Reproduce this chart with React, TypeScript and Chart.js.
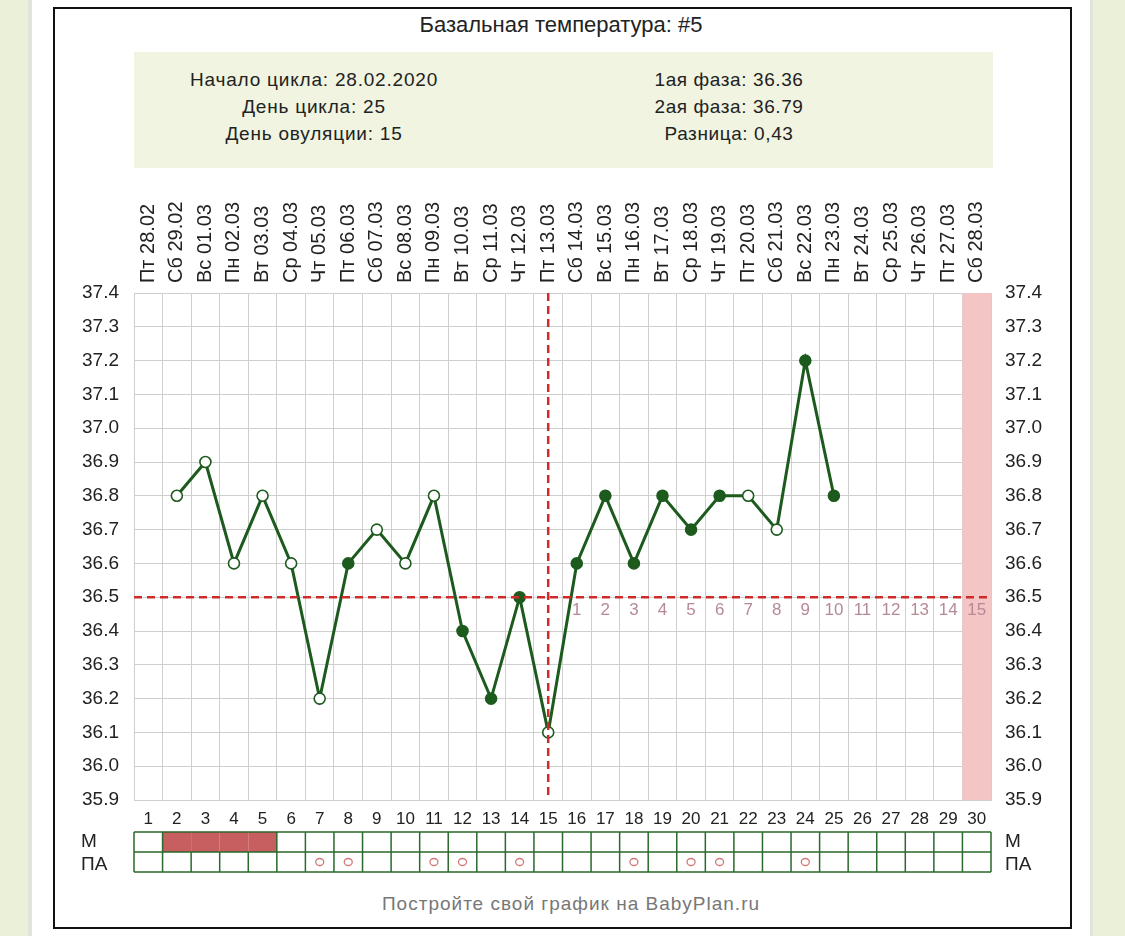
import React, { useEffect, useRef } from "react";
import { Chart, registerables } from "chart.js";

Chart.register(...registerables);

// ---------- data ----------
const dateLabels = [
  "Пт 28.02", "Сб 29.02", "Вс 01.03", "Пн 02.03", "Вт 03.03", "Ср 04.03",
  "Чт 05.03", "Пт 06.03", "Сб 07.03", "Вс 08.03", "Пн 09.03", "Вт 10.03",
  "Ср 11.03", "Чт 12.03", "Пт 13.03", "Сб 14.03", "Вс 15.03", "Пн 16.03",
  "Вт 17.03", "Ср 18.03", "Чт 19.03", "Пт 20.03", "Сб 21.03", "Вс 22.03",
  "Пн 23.03", "Вт 24.03", "Ср 25.03", "Чт 26.03", "Пт 27.03", "Сб 28.03",
];
const cycleDays = [
  "1", "2", "3", "4", "5", "6", "7", "8", "9", "10", "11", "12", "13", "14", "15",
  "16", "17", "18", "19", "20", "21", "22", "23", "24", "25", "26", "27", "28", "29", "30",
];
const temperatures = [
  null, 36.8, 36.9, 36.6, 36.8, 36.6, 36.2, 36.6, 36.7, 36.6, 36.8, 36.4, 36.2, 36.5, 36.1,
  36.6, 36.8, 36.6, 36.8, 36.7, 36.8, 36.8, 36.7, 37.2, 36.8, null, null, null, null, null,
];
const filledMarkers = [
  false, false, false, false, false, false, false, true, false, false, false, true, true, true, false,
  true, true, true, true, true, true, false, false, true, true, false, false, false, false, false,
];
const coverline = 36.5;
const ovulationDay = "15";
const phaseStartDay = 16;
const phaseNumbers = ["1", "2", "3", "4", "5", "6", "7", "8", "9", "10", "11", "12", "13", "14", "15"];
const highlightDay = "30";
const periodDays = ["2", "3", "4", "5"];
const intercourseDays = ["7", "8", "11", "12", "14", "18", "20", "21", "24"];
const yMin = 35.9;
const yMax = 37.4;
const yStep = 0.1;

const titleText = "Базальная температура: #5";
const infoLeft = ["Начало цикла: 28.02.2020", "День цикла: 25", "День овуляции: 15"];
const infoRight = ["1ая фаза: 36.36", "2ая фаза: 36.79", "Разница: 0,43"];
const footerText = "Постройте свой график на BabyPlan.ru";
const rowLabels = ["М", "ПА"];

// ---------- styles ----------
const FONT = "'Liberation Sans', Arial, sans-serif";
const LINE_GREEN = "#1d5a1d";
const RED = "#cf2b2b";
const GRID = "#cfcfcf";
const TABLE_GREEN = "#2a6a2a";

const overlayPlugin = {
  id: "bbtOverlay",
  beforeDatasetsDraw(chart: any) {
    const { ctx, chartArea } = chart;
    const x = chart.scales.x;
    const w = x.getPixelForValue(1) - x.getPixelForValue(0);
    const cx = x.getPixelForValue(cycleDays.indexOf(highlightDay));
    ctx.save();
    ctx.fillStyle = "#f3c5c5";
    ctx.fillRect(cx - w / 2, chartArea.top, w, chartArea.bottom - chartArea.top);
    ctx.restore();
  },
  afterDatasetsDraw(chart: any) {
    const { ctx, chartArea } = chart;
    const x = chart.scales.x;
    const y = chart.scales.y;
    ctx.save();
    ctx.strokeStyle = RED;
    ctx.lineWidth = 2.5;
    ctx.setLineDash([8, 5]);
    const yc = y.getPixelForValue(coverline);
    ctx.beginPath();
    ctx.moveTo(chartArea.left, yc);
    ctx.lineTo(chartArea.right, yc);
    ctx.stroke();
    const xo = x.getPixelForValue(cycleDays.indexOf(ovulationDay));
    ctx.beginPath();
    ctx.moveTo(xo, chartArea.top);
    ctx.lineTo(xo, chartArea.bottom);
    ctx.stroke();
    ctx.setLineDash([]);
    ctx.fillStyle = "#b58a95";
    ctx.font = `17px ${FONT}`;
    ctx.textAlign = "center";
    ctx.textBaseline = "middle";
    phaseNumbers.forEach((n, i) => {
      const px = x.getPixelForValue(phaseStartDay - 1 + i);
      ctx.fillText(n, px, yc + 13);
    });
    ctx.restore();
  },
  afterDraw(chart: any) {
    const { ctx, chartArea } = chart;
    const x = chart.scales.x;
    const w = x.getPixelForValue(1) - x.getPixelForValue(0);
    const left = chartArea.left;
    const right = chartArea.right;
    const top = chartArea.bottom + 32;
    const rowH = 20;
    ctx.save();
    ctx.fillStyle = "#c75f60";
    periodDays.forEach((d) => {
      const cx = x.getPixelForValue(cycleDays.indexOf(d));
      ctx.fillRect(cx - w / 2, top, w, rowH);
    });
    ctx.strokeStyle = TABLE_GREEN;
    ctx.lineWidth = 1.5;
    ctx.beginPath();
    for (let r = 0; r <= 2; r++) {
      ctx.moveTo(left, top + r * rowH);
      ctx.lineTo(right, top + r * rowH);
    }
    for (let i = 0; i <= cycleDays.length; i++) {
      const bx = left + i * w;
      const inPeriodLeft = i > 0 && periodDays.includes(cycleDays[i - 1]);
      const inPeriodRight = i < cycleDays.length && periodDays.includes(cycleDays[i]);
      if (!(inPeriodLeft && inPeriodRight)) {
        ctx.moveTo(bx, top);
        ctx.lineTo(bx, top + rowH);
      }
      ctx.moveTo(bx, top + rowH);
      ctx.lineTo(bx, top + 2 * rowH);
    }
    ctx.stroke();
    ctx.strokeStyle = "#d27878";
    ctx.lineWidth = 1.3;
    intercourseDays.forEach((d) => {
      const cx = x.getPixelForValue(cycleDays.indexOf(d));
      ctx.beginPath();
      ctx.ellipse(cx, top + rowH * 1.5, 4, 3.5, 0, 0, Math.PI * 2);
      ctx.stroke();
    });
    ctx.fillStyle = "#222";
    ctx.font = `19px ${FONT}`;
    ctx.textBaseline = "middle";
    ctx.textAlign = "left";
    ctx.fillText(rowLabels[0], 81, top + rowH * 0.5);
    ctx.fillText(rowLabels[1], 81, top + rowH * 1.65);
    ctx.fillText(rowLabels[0], right + 14, top + rowH * 0.5);
    ctx.fillText(rowLabels[1], right + 14, top + rowH * 1.65);
    ctx.restore();
  },
};

function ChartCanvas() {
  const ref = useRef<HTMLCanvasElement | null>(null);
  useEffect(() => {
    if (!ref.current) return;
    const chart = new Chart(ref.current, {
      type: "line",
      data: {
        labels: cycleDays,
        datasets: [
          {
            data: temperatures as any,
            xAxisID: "x",
            yAxisID: "y",
            borderColor: LINE_GREEN,
            borderWidth: 3,
            tension: 0,
            spanGaps: false,
            pointRadius: 5.5,
            pointBorderWidth: 1.6,
            pointBorderColor: LINE_GREEN,
            pointBackgroundColor: filledMarkers.map((f) => (f ? LINE_GREEN : "#ffffff")),
          },
        ],
      },
      options: {
        responsive: false,
        animation: false,
        devicePixelRatio: 1,
        layout: { padding: 0 },
        plugins: { legend: { display: false }, tooltip: { enabled: false }, title: { display: false } },
        scales: {
          x: {
            type: "category",
            position: "bottom",
            offset: true,
            labels: cycleDays,
            grid: { color: GRID, offset: true, drawTicks: false, lineWidth: 1 },
            border: { color: GRID },
            ticks: { color: "#222", font: { size: 17, family: FONT }, padding: 9, autoSkip: false, maxRotation: 0, minRotation: 0 },
            afterFit: (axis: any) => { axis.height = 136; },
          },
          xTop: {
            type: "category",
            position: "top",
            offset: true,
            labels: dateLabels,
            grid: { display: false, drawTicks: false },
            border: { display: false },
            ticks: { color: "#222", font: { size: 20, family: FONT }, padding: 10, labelOffset: 24, autoSkip: false, maxRotation: 90, minRotation: 90 },
            afterFit: (axis: any) => { axis.height = 293; },
          },
          y: {
            type: "linear",
            position: "left",
            min: yMin,
            max: yMax,
            grid: { color: GRID, drawTicks: false, lineWidth: 1 },
            border: { color: GRID },
            ticks: { stepSize: yStep, color: "#222", font: { size: 19, family: FONT }, padding: 15, callback: (v: any) => Number(v).toFixed(1) },
            afterFit: (axis: any) => { axis.width = 134; },
          },
          yRight: {
            type: "linear",
            position: "right",
            min: yMin,
            max: yMax,
            grid: { display: false, drawTicks: false },
            border: { color: GRID },
            ticks: { stepSize: yStep, color: "#222", font: { size: 19, family: FONT }, padding: 14, callback: (v: any) => Number(v).toFixed(1) },
            afterFit: (axis: any) => { axis.width = 134; },
          },
        },
      } as any,
      plugins: [overlayPlugin],
    });
    return () => chart.destroy();
  }, []);
  return <canvas ref={ref} width={1125} height={936} style={{ position: "absolute", left: 0, top: 0, width: 1125, height: 936 }} />;
}

const centered = (x: number, y: number, extra: any = {}) => ({
  position: "absolute" as const,
  left: x,
  top: y,
  transform: "translate(-50%, -50%)",
  whiteSpace: "nowrap" as const,
  fontFamily: FONT,
  ...extra,
});

export default function App() {
  return (
    <div style={{ position: "absolute", left: 0, top: 0, width: 1125, height: 936, background: "#ffffff", overflow: "hidden" }}>
      <div style={{ position: "absolute", left: 0, top: 0, width: 28, height: 936, background: "#ebf0d8" }} />
      <div style={{ position: "absolute", left: 28, top: 0, width: 4, height: 936, background: "#e2e4dc" }} />
      <div style={{ position: "absolute", left: 1090, top: 0, width: 3, height: 936, background: "#e2e4dc" }} />
      <div style={{ position: "absolute", left: 1093, top: 0, width: 32, height: 936, background: "#ebf0d8" }} />
      <div style={{ position: "absolute", left: 53, top: 7, width: 1015, height: 918, border: "2px solid #111", background: "#fff" }} />
      <div style={{ position: "absolute", left: 134, top: 52, width: 859, height: 116, background: "#f0f4e0" }} />
      <div style={centered(561, 25, { fontSize: 22, color: "#222" })}>{titleText}</div>
      {infoLeft.map((t, i) => (
        <div key={"l" + i} style={centered(314, 80 + i * 27, { fontSize: 19, letterSpacing: 0.8, color: "#222" })}>{t}</div>
      ))}
      {infoRight.map((t, i) => (
        <div key={"r" + i} style={centered(729, 80 + i * 27, { fontSize: 19, letterSpacing: 0.6, color: "#222" })}>{t}</div>
      ))}
      <div style={centered(571, 904, { fontSize: 19, letterSpacing: 1, color: "#777" })}>{footerText}</div>
      <ChartCanvas />
    </div>
  );
}
